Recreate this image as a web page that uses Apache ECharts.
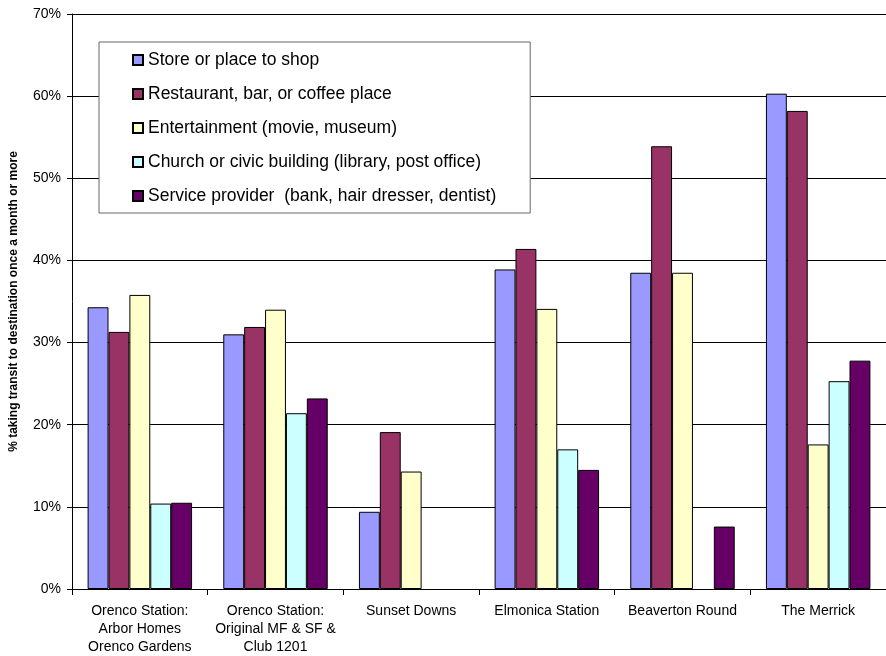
<!DOCTYPE html>
<html>
<head>
<meta charset="utf-8">
<script src="https://cdn.jsdelivr.net/npm/echarts@6/dist/echarts.min.js"></script>
<style>
    html, body { margin: 0; padding: 0; background: #fff; }
    #chart { width: 886px; height: 656px; }
</style>
</head>
<body>
<div id="chart"></div>
<script>
// categories (x axis) and values, in percent
var places = [
    "Orenco Station:\nArbor Homes\nOrenco Gardens",
    "Orenco Station:\nOriginal MF & SF &\nClub 1201",
    "Sunset Downs",
    "Elmonica Station",
    "Beaverton Round",
    "The Merrick"
];
var seriesNames = [
    "Store or place to shop",
    "Restaurant, bar, or coffee place",
    "Entertainment (movie, museum)",
    "Church or civic building (library, post office)",
    "Service provider  (bank, hair dresser, dentist)"
];
var shop = [34.3, 31.0, 9.4, 38.9, 38.5, 60.3];
var restaurant = [31.3, 31.9, 19.1, 41.4, 53.9, 58.2];
var entertainment = [35.8, 34.0, 14.3, 34.1, 38.5, 17.6];
var civic = [10.4, 21.4, 0, 17.0, 0, 25.3];
var service = [10.5, 23.2, 0, 14.5, 7.6, 27.8];
var colors = ["#9999FF", "#993366", "#FFFFCC", "#CCFFFF", "#660066"];

var fontFamily = "Liberation Sans, Arial, sans-serif";
var myChart = echarts.init(document.getElementById("chart"));

var allValues = [shop, restaurant, entertainment, civic, service];
var series = allValues.map(function (vals, i) {
    return {
        name: seriesNames[i],
        type: "bar",
        // 0 的柱子在原图中不画
        data: vals.map(function (v) { return v === 0 ? "-" : v; }),
        barGap: "0%",
        barCategoryGap: "23%",
        itemStyle: {
            color: colors[i],
            borderColor: "#000",
            borderWidth: 1
        },
        emphasis: { disabled: true }
    };
});

var option = {
    animation: false,
    textStyle: { fontFamily: fontFamily },
    grid: { left: 71, right: -2, top: 14, bottom: 66 },
    legend: {
        orient: "vertical",
        left: 99,
        top: 42,
        padding: [9, 34, 8, 33],
        itemGap: 16,
        itemWidth: 10,
        itemHeight: 10,
        icon: "rect",
        borderColor: "#666",
        borderWidth: 1,
        backgroundColor: "#fff",
        textStyle: { fontSize: 17.5, lineHeight: 18, color: "#000", fontFamily: fontFamily },
        data: seriesNames
    },
    xAxis: {
        type: "category",
        data: places,
        axisLine: { lineStyle: { color: "#000", width: 1 } },
        axisTick: { show: true, length: 6, lineStyle: { color: "#000" } },
        axisLabel: {
            color: "#000",
            fontSize: 14,
            lineHeight: 18,
            margin: 13,
            interval: 0
        }
    },
    yAxis: {
        type: "value",
        min: 0,
        max: 70,
        interval: 10,
        name: "% taking transit to destination once a month or more",
        nameLocation: "middle",
        nameGap: 52,
        nameTextStyle: { fontSize: 12, fontWeight: "bold", color: "#000" },
        axisLine: { show: true, lineStyle: { color: "#000" } },
        axisTick: { show: true, length: 5, lineStyle: { color: "#000" } },
        axisLabel: {
            color: "#000",
            fontSize: 14,
            margin: 11,
            formatter: "{value}%"
        },
        splitLine: { lineStyle: { color: "#000", width: 1 } }
    },
    series: series
};

myChart.setOption(option);
</script>
</body>
</html>
